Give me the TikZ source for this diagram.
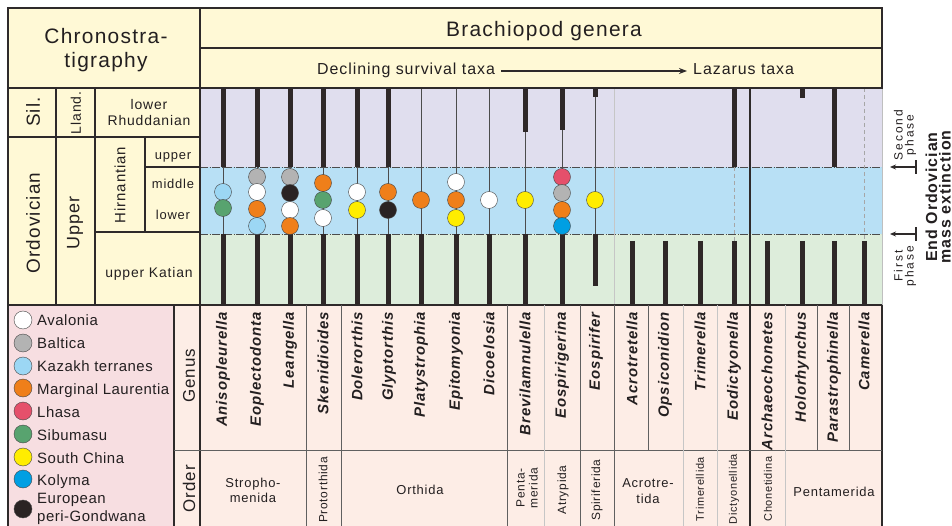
\documentclass[tikz,border=0pt]{standalone}
\usepackage{fontspec}
\setmainfont{Liberation Sans}[LetterSpace=6]
\usetikzlibrary{arrows.meta}
\definecolor{hdr}{HTML}{FFF9D6}
\definecolor{lav}{HTML}{E0DEEE}
\definecolor{lblu}{HTML}{B8E0F5}
\definecolor{lgrn}{HTML}{DDEDDB}
\definecolor{legbg}{HTML}{F7DEE1}
\definecolor{tabbg}{HTML}{FDEDE6}
\definecolor{txt}{HTML}{231F20}
\definecolor{frame}{HTML}{2E2A2A}
\definecolor{barc}{HTML}{2F2828}
\definecolor{ava}{HTML}{FFFFFF}
\definecolor{bal}{HTML}{B3B3B3}
\definecolor{kaz}{HTML}{9CD7F4}
\definecolor{mar}{HTML}{EF7F1A}
\definecolor{lha}{HTML}{E5506B}
\definecolor{sib}{HTML}{58A36F}
\definecolor{sc}{HTML}{FFED00}
\definecolor{kol}{HTML}{009FE3}
\definecolor{per}{HTML}{2A2323}
\newcommand\fsz[2]{\fontsize{#1}{#2}\selectfont}
\begin{document}
\begin{tikzpicture}[x=1bp,y=-1bp,
  every node/.style={inner sep=0pt, text=txt},
  frm/.style={draw=frame, line width=1.2bp},
  grd/.style={draw=gray!75!black, line width=0.7bp},
  fgrd/.style={draw=gray!45, line width=0.7bp},
  bar/.style={draw=barc, line width=5bp},
  thinl/.style={draw=gray!60!black, line width=0.8bp},
  dsh/.style={draw=gray!70, line width=0.6bp, dash pattern=on 4bp off 3bp},
  band/.style={draw=gray!60!black, line width=0.6bp, dash pattern=on 8bp off 1.5bp on 1bp off 1.5bp},
  dot/.style={circle, draw=gray!55!black, line width=0.4bp, minimum size=17bp, inner sep=0pt},
  genus/.style={rotate=90, anchor=east, font=\fsz{15}{17}\bfseries\itshape},
  ordr/.style={rotate=90, font=\fsz{12}{13}},
  ordn/.style={rotate=90, font=\fsz{11}{12}},
  legt/.style={anchor=base west, font=\fsz{15}{17}\addfontfeature{LetterSpace=3.5}},
  arr/.style={-{Stealth[length=6bp,width=5bp]}, draw=frame, line width=1.3bp}]
\useasboundingbox (0,0) rectangle (952,526);
% ---------- backgrounds
\fill[white] (0,0) rectangle (952,526);
\fill[hdr] (8,8) rectangle (882,88);
\fill[hdr] (8,88) rectangle (200,305);
\fill[lav] (200,88) rectangle (882,167);
\fill[lblu] (200,167) rectangle (882,234);
\fill[lgrn] (200,234) rectangle (882,305);
\fill[legbg] (8,305) rectangle (174,526);
\fill[tabbg] (174,305) rectangle (882,526);
% ---------- band boundaries and faint grid in data area
\draw[band] (200,167) -- (882,167);
\draw[band] (200,234) -- (882,234);
\draw[fgrd] (614,88) -- (614,305);
\draw[draw=gray!50, line width=0.8bp] (882,88) -- (882,305);
% ---------- range bars
\foreach \x in {223,257,290,323,357,388}{
  \draw[bar] (\x,88) -- (\x,167);
  \draw[thinl] (\x,167) -- (\x,234);
  \draw[bar] (\x,234) -- (\x,305);}
\foreach \x in {421,456,489}{
  \draw[thinl] (\x,88) -- (\x,234);
  \draw[bar] (\x,234) -- (\x,305);}
\draw[bar] (525,88) -- (525,132);
\draw[thinl] (525,132) -- (525,234);
\draw[bar] (525,234) -- (525,305);
\draw[bar] (562,88) -- (562,130);
\draw[thinl] (562,130) -- (562,234);
\draw[bar] (562,234) -- (562,305);
\draw[bar] (595,88) -- (595,97);
\draw[thinl] (595,97) -- (595,234);
\draw[bar] (595,234) -- (595,286);
\foreach \x in {632,665,700,734,767,802,834,864}{
  \draw[bar] (\x,241) -- (\x,305);}
\draw[bar] (734,88) -- (734,167);
\draw[dsh] (734,167) -- (734,241);
\draw[bar] (802,88) -- (802,98);
\draw[bar] (834,88) -- (834,167);
\draw[dsh] (864,88) -- (864,241);
% ---------- dots
\foreach \x/\y/\c in {223/192/kaz, 223/208/sib,
  257/177/bal, 257/192/ava, 257/209/mar, 257/226/kaz,
  290/177/bal, 290/193/per, 290/210/ava, 290/226/mar,
  323/183/mar, 323/200/sib, 323/218/ava,
  357/192/ava, 357/210/sc, 388/192/mar, 388/210/per,
  421/200/mar, 456/182/ava, 456/200/mar, 456/218/sc,
  489/200/ava, 525/200/sc,
  562/177/lha, 562/193/bal, 562/210/mar, 562/226/kol,
  595/200/sc}
  \node[dot, fill=\c] (dot-\x-\y) at (\x,\y) {};
% ---------- frame and table lines
\draw[frm] (8,8) rectangle (882,88);
\draw[frm] (200,48) -- (882,48);
\draw[frm] (8,88) -- (8,526);
\draw[frm] (200,8) -- (200,526);
\draw[frm] (8,305) -- (882,305);
\draw[frm] (882,305) -- (882,526);
\draw[frm] (750,88) -- (750,526);
\draw[frm] (174,305) -- (174,526);
% left chronostratigraphy grid
\draw[frm] (56,88) -- (56,305);
\draw[frm] (95,88) -- (95,305);
\draw[frm] (145,137) -- (145,232);
\draw[frm] (8,137) -- (200,137);
\draw[frm] (145,167) -- (200,167);
\draw[frm] (95,232) -- (200,232);
% lower table grid
\draw[grd] (174,450) -- (882,450);
\foreach \x in {306,341,507,580,614}{\draw[grd] (\x,305) -- (\x,526);}
\foreach \x in {544,683,717,785}{\draw[fgrd] (\x,305) -- (\x,526);}
\foreach \x in {648,817,849}{\draw[grd] (\x,305) -- (\x,450);}
% ---------- header texts
\node[anchor=base, font=\fsz{21}{24}] (chr1) at (106,44) {Chronostra-};
\node[anchor=base, font=\fsz{21}{24}] (chr2) at (106,68) {tigraphy};
\node[anchor=base, font=\fsz{21}{24}] (title) at (544,37) {Brachiopod genera};
\node[anchor=base west, font=\fsz{16}{18}, text height=11bp, text depth=3bp] (decl) at (317,75) {Declining survival taxa};
\node[anchor=base west, font=\fsz{16}{18}, text height=11bp, text depth=3bp] (laz) at (693,75) {Lazarus taxa};
\draw[-{Stealth[length=8bp,width=6bp]}, draw=frame, line width=1.4bp] ([xshift=6bp]decl.east) -- ([xshift=-6bp]decl.east -| laz.west);
% ---------- left table texts
\node[rotate=90, font=\fsz{19}{21}] (sil) at (33,112) {Sil.};
\node[rotate=90, font=\fsz{14}{16}] (lland) at (76,113) {Lland.};
\node[anchor=base, font=\fsz{14}{16}] (lr1) at (149,110) {lower};
\node[anchor=base, font=\fsz{14}{16}] (lr2) at (149,126) {Rhuddanian};
\node[rotate=90, font=\fsz{19}{21}] (ordo) at (33,223) {Ordovician};
\node[rotate=90, font=\fsz{18}{20}] (upp) at (75,223) {Upper};
\node[rotate=90, font=\fsz{15}{17}] (hirn) at (120,185) {Hirnantian};
\node[anchor=base, font=\fsz{13}{15}] (hu) at (173,160) {upper};
\node[anchor=base, font=\fsz{13}{15}] (hm) at (173,189) {middle};
\node[anchor=base, font=\fsz{13}{15}] (hl) at (173,220) {lower};
\node[anchor=base, font=\fsz{14}{16}] (kat) at (149,278) {upper Katian};
% ---------- legend
\foreach \y/\c/\t in {320/ava/Avalonia, 343/bal/Baltica, 366/kaz/Kazakh terranes,
  388/mar/Marginal Laurentia, 411/lha/Lhasa, 434/sib/Sibumasu,
  457/sc/South China, 479/kol/Kolyma}{
  \node[dot, fill=\c, minimum size=18bp] (leg-\c) at (23,\y) {};
  \node[legt] (legt-\c) at (37,\y+6) {\t};}
\node[dot, fill=per, minimum size=18bp] (leg-per) at (23,509) {};
\node[legt] (legt-per1) at (37,503) {European};
\node[legt] (legt-per2) at (37,521) {peri-Gondwana};
% ---------- genus / order labels
\node[rotate=90, font=\fsz{17}{19}] (lgen) at (189,376) {Genus};
\node[rotate=90, font=\fsz{17}{19}] (lord) at (189,489) {Order};
\foreach \x/\g in {223/Anisopleurella, 257/Eoplectodonta, 290/Leangella,
  323/Skenidioides, 357/Dolerorthis, 389/Glyptorthis, 421/Platystrophia,
  456/Epitomyonia, 489/Dicoelosia, 525/Brevilamnulella, 562/Eospirigerina,
  596/Eospirifer, 632/Acrotretella, 665/Opsiconidion, 700/Trimerella,
  734/Eodictyonella, 767/Archaeochonetes, 802/Holorhynchus,
  834/Parastrophinella, 864/Camerella}
  \node[genus] (gen-\x) at (\x,312) {\g};
\node[align=center, font=\fsz{13}{15}] (o1) at (253,490) {Stropho-\\menida};
\node[ordr] (o2) at (323,490) {Protorthida};
\node[font=\fsz{13}{15}] (o3) at (420,490) {Orthida};
\node[ordr, align=center] (o4) at (527,488) {Penta-\\merida};
\node[ordr] (o5) at (563,490) {Atrypida};
\node[ordr] (o6) at (597,490) {Spiriferida};
\node[align=center, font=\fsz{13}{16}] (o7) at (648,491) {Acrotre-\\tida};
\node[ordn] (o8) at (700,489) {Trimerellida};
\node[ordn] (o9) at (734,489) {Dictyonellida};
\node[ordn] (o10) at (768,489) {Chonetidina};
\node[font=\fsz{13}{15}] (o11) at (834,492) {Pentamerida};
% ---------- right annotation
\coordinate (p2a) at (916,167);
\coordinate (p2b) at (890,167);
\coordinate (p1a) at (916,234);
\coordinate (p1b) at (890,234);
\draw[arr] (p2a) -- (p2b);
\draw[arr] (p1a) -- (p1b);
\draw[draw=frame, line width=1.6bp] ([yshift=-7bp]p2a) -- ([yshift=7bp]p2a);
\draw[draw=frame, line width=1.6bp] ([yshift=-7bp]p1a) -- ([yshift=7bp]p1a);
\node[rotate=90, align=center, font=\fsz{12}{11}\addfontfeature{LetterSpace=16}] (sec) at (905,135) {Second\\phase};
\node[rotate=90, align=center, font=\fsz{12}{11}\addfontfeature{LetterSpace=16}] (fir) at (905,266) {First\\phase};
\node[rotate=90, anchor=base, font=\fsz{16}{18}\bfseries] (eo1) at (937,197) {End Ordovician};
\node[rotate=90, anchor=base, font=\fsz{16}{18}\bfseries] (eo2) at (950.5,197) {mass extinction};
\end{tikzpicture}
\end{document}
